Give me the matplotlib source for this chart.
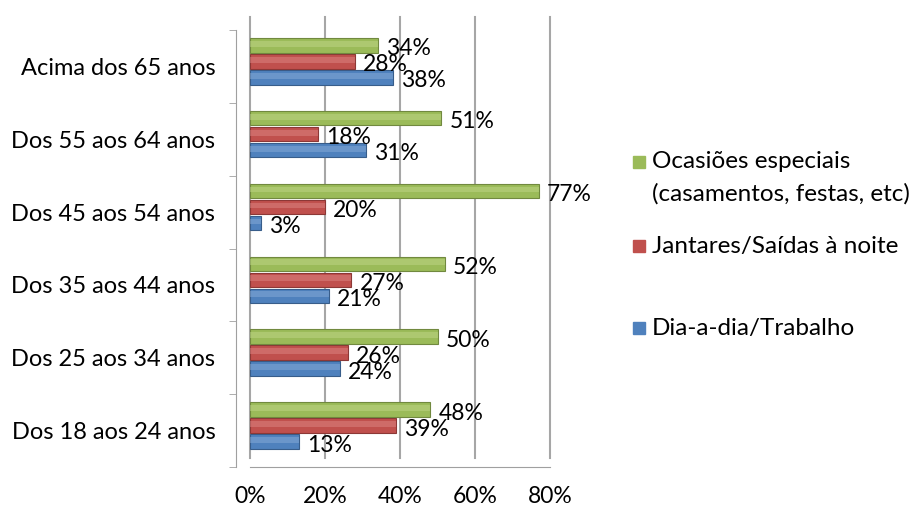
import matplotlib
matplotlib.use("Agg")
import matplotlib.pyplot as plt
from matplotlib.patches import Rectangle
import numpy as np

categories = ["Dos 18 aos 24 anos", "Dos 25 aos 34 anos", "Dos 35 aos 44 anos",
              "Dos 45 aos 54 anos", "Dos 55 aos 64 anos", "Acima dos 65 anos"]
dia = [13, 24, 21, 3, 31, 38]
jantares = [39, 26, 27, 20, 18, 28]
ocasioes = [48, 50, 52, 77, 51, 34]
series_names = ["Dia-a-dia/Trabalho", "Jantares/Saídas à noite",
                "Ocasiões especiais\n(casamentos, festas, etc)"]
colors = ["#4F81BD", "#C0504D", "#9BBB59"]
dark = ["#385D8A", "#8C3836", "#71893F"]
light = ["#8FB0DB", "#E08C8A", "#C3DA8E"]
xticks = [0, 20, 40, 60, 80]

plt.rcParams['font.family'] = ['Lato', 'DejaVu Sans']
fig = plt.figure(figsize=(9.21, 5.13), dpi=100)
ax = fig.add_axes([250/921, 1-467/513, (550-250)/921, (467-30)/513])

y = np.arange(len(categories))
bh = 0.2
offs = [-0.15, 0.07, 0.29]
for si, vals in enumerate([dia, jantares, ocasioes]):
    yy = y + offs[si]
    ax.barh(yy, vals, height=bh, color=colors[si], edgecolor=dark[si], linewidth=0.8, zorder=3)
    ax.barh(yy + bh*0.1, vals, height=bh*0.4, color=light[si], alpha=0.45, linewidth=0, zorder=4)
    for yi, v in zip(yy, vals):
        ax.text(v + 2.2, yi - 0.05, f"{v}%", fontsize=16.5, va="center", ha="left", zorder=6, color="black")

ax.set_xlim(0, 80)
ax.set_ylim(-0.5, 5.5)
ax.set_xticks(xticks)
ax.set_xticklabels([f"{t}%" for t in xticks])
ax.set_yticks(y)
ax.set_yticklabels(categories)
ax.set_yticks(np.arange(-0.5, 6, 1), minor=True)
ax.tick_params(axis='y', which='major', length=0, pad=15, labelsize=17)
ax.tick_params(axis='y', which='minor', length=5, color="#A0A0A0", direction="out")
ax.tick_params(axis='x', length=0, pad=14, labelsize=16.5)
for t in xticks:
    ax.axvline(t, color="#A6A6A6", lw=1.5, zorder=1, ymin=0.02, ymax=1.03, clip_on=False)
for s in ["top", "right"]:
    ax.spines[s].set_visible(False)
ax.spines["left"].set_color("#A0A0A0")
ax.spines["bottom"].set_color("#A0A0A0")
ax.spines["left"].set_position(("outward", 10))

# legend (manual)
for si, ypx in [(2, 162), (1, 246), (0, 328)]:
    fig.patches.append(Rectangle((633/921, 1-(ypx+6)/513), 12/921, 12/513, transform=fig.transFigure,
                                 color=colors[si], figure=fig))
fs = 17.5
fig.text(652/921, 1-162/513, "Ocasiões especiais", fontsize=fs, va="center", ha="left")
fig.text(652/921, 1-194/513, "(casamentos, festas, etc)", fontsize=fs, va="center", ha="left")
fig.text(652/921, 1-246/513, "Jantares/Saídas à noite", fontsize=fs, va="center", ha="left")
fig.text(652/921, 1-328/513, "Dia-a-dia/Trabalho", fontsize=fs, va="center", ha="left")

fig.savefig("out.png", dpi=100)
